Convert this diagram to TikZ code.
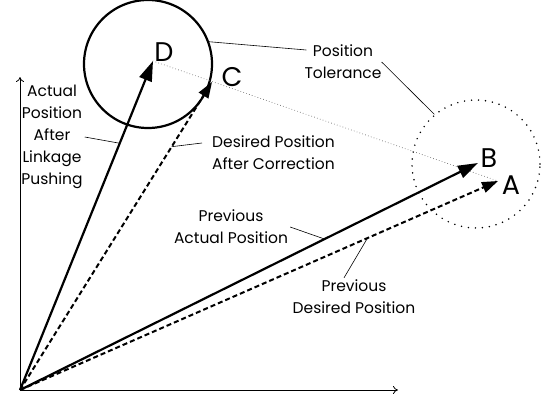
\documentclass[tikz,border=0pt]{standalone}
\usepackage{fontspec}
\setmainfont{Poppins}
\usetikzlibrary{arrows.meta,calc,positioning}
\tikzset{
  vec/.style={line width=2.2pt,-{Triangle[length=20pt,width=13pt]}},
  vecdash/.style={line width=2pt,dash pattern=on 5pt off 3pt,-{Triangle[length=16pt,width=11pt]}},
  axis/.style={line width=0.8pt,-{To[length=5pt,width=8pt]}},
  leader/.style={line width=0.6pt},
  lab/.style={font=\fontsize{15.5}{22}\selectfont,align=center,inner sep=2pt},
  ptlab/.style={font=\fontsize{27}{27}\selectfont,inner sep=0pt},
}
\begin{document}
\begin{tikzpicture}[x=1pt,y=-1pt]
  \useasboundingbox (0,0) rectangle (554,402);
  \coordinate (O) at (20,390);
  \coordinate (ytop) at (20,77);
  \coordinate (xend) at (398,390);
  \coordinate (A) at (498,181);
  \coordinate (B) at (478,163);
  \coordinate (C) at (212,82);
  \coordinate (D) at (153,61);
  % axes
  \draw[axis] (O) -- (ytop);
  \draw[axis] (O) -- (xend);
  % tolerance circles
  \node[circle,draw,line width=2.2pt,minimum size=128pt] (tolD) at (148,64) {};
  \node[circle,draw,line width=1.7pt,dash pattern=on 0pt off 7pt,line cap=round,minimum size=128pt] (tolB) at (476,164) {};
  \draw[black!60,line width=0.9pt,dash pattern=on 0pt off 3pt,line cap=round] (D) -- (A);
  % position vectors
  \draw[vec] (O) -- (D);
  \draw[vecdash] (O) -- (C);
  \draw[vec] (O) -- (B);
  \draw[vecdash] (O) -- (A);
  \node[ptlab] (labD) at (164,52) {D};
  \node[ptlab] (labC) at (232,77) {C};
  \node[ptlab] (labB) at (489,158) {B};
  \node[ptlab] (labA) at (511,185) {A};
  % labels and leaders
  \node[lab] (actual) at (52,137) {Actual\\Position\\After\\Linkage\\Pushing};
  \draw[leader] (actual.east) -- ($(O)!0.75!(D)$);
  \node[lab,align=left,anchor=west] (corr) at (210,153) {Desired Position\\After Correction};
  \draw[leader] ($(corr.west)+(-8,-10)$) -- ($(O)!0.79!(C)$);
  \node[lab] (tol) at (343,62) {Position\\Tolerance};
  \draw[leader] (tolD.20) -- ($(tol.west)+(4,-12)$);
  \draw[leader] ($(tol.east)+(-2,0)$) -- (tolB.130);
  \node[lab] (prevact) at (231,227) {Previous\\Actual Position};
  \draw[leader] (prevact.east) -- ($(O)!0.665!(B)$);
  \node[lab] (prevdes) at (354,297) {Previous\\Desired Position};
  \draw[leader] ($(prevdes.north)+(-10,0)$) -- ($(O)!0.727!(A)$);
\end{tikzpicture}
\end{document}
